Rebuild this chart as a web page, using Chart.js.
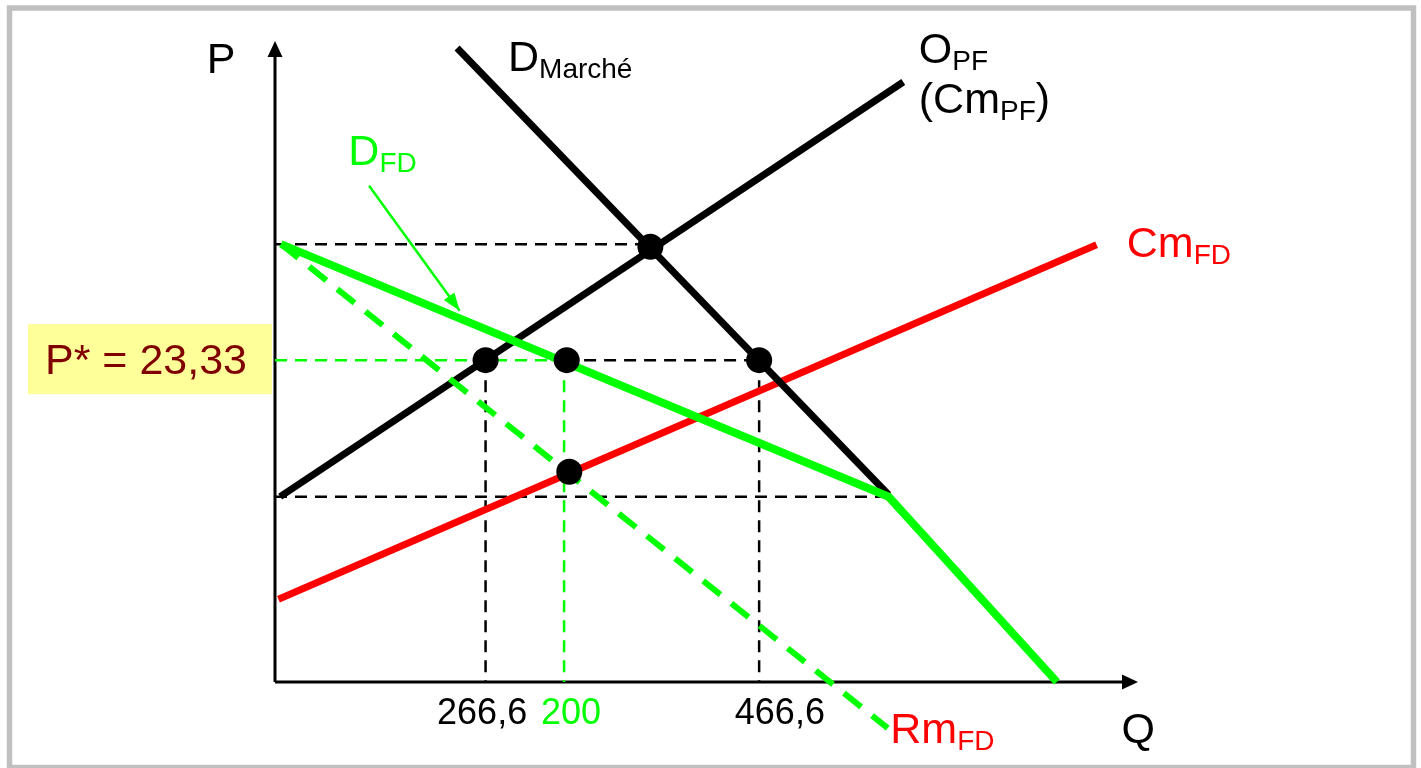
<!DOCTYPE html>
<html lang="fr">
<head>
<meta charset="UTF-8">
<title>Firme dominante</title>
<script src="https://cdn.jsdelivr.net/npm/chart.js"></script>
<style>
  html, body { margin: 0; padding: 0; background: #fff; }
</style>
</head>
<body>
<canvas id="chart" width="1421" height="768"></canvas>
<script>
// Courbes (Q en abscisse, P en ordonnée, unités du schéma)
const dMarcheQ = [21.1, 71.1];
const dMarcheP = [98.9, 29.2];
const oPfQ = [0.6, 72.8];
const oPfP = [28.9, 93.6];
const cmFdQ = [0.4, 95.2];
const cmFdP = [12.9, 68.2];
const dFdQ = [0.7, 71.1, 90.6];
const dFdP = [68.3, 28.9, 0];
const rmFdQ = [0.7, 71.0];
const rmFdP = [68.3, -7.2];

// Niveaux de prix et quantités repères
const pHaut = 68.3;
const pStar = 50.2;
const pBas = 28.9;
const qHaut = 43.5;
const qKink = 71.1;
const qTicks = [24.4, 33.5, 56.1];
const qTickLabels = ['266,6', '200', '466,6'];
const qTickColors = ['#000000', '#00ff00', '#000000'];

// Points d'équilibre
const dotsQ = [43.5, 24.4, 33.8, 56.1, 34.1];
const dotsP = [67.9, 50.2, 50.2, 50.2, 32.8];

// Flèche vers D_FD
const arrowQ = [10.9, 21.4];
const arrowP = [77.4, 57.9];

const GREEN = '#00ff00';
const RED = '#ff0000';
const FONT = '"Liberation Sans", Arial, sans-serif';

function pts(qs, ps) {
  return qs.map((q, i) => ({ x: q, y: ps[i] }));
}

function line(data, color, width, dash) {
  return {
    data: data,
    showLine: true,
    borderColor: color,
    backgroundColor: color,
    borderWidth: width,
    borderDash: dash || [],
    pointRadius: 0,
    fill: false,
    clip: false
  };
}

const guides = [
  line([{ x: 0, y: pHaut }, { x: qHaut, y: pHaut }], '#000', 2.5, [12, 8]),
  line([{ x: 0, y: pStar }, { x: qTicks[1], y: pStar }], GREEN, 2.5, [12, 8]),
  line([{ x: qTicks[1], y: pStar }, { x: qTicks[2], y: pStar }], '#000', 2.5, [12, 8]),
  line([{ x: 0, y: pBas }, { x: qKink, y: pBas }], '#000', 2.5, [12, 8]),
  line([{ x: qTicks[0], y: pStar }, { x: qTicks[0], y: 0 }], '#000', 2.5, [12, 8]),
  line([{ x: qTicks[1], y: pStar }, { x: qTicks[1], y: 0 }], GREEN, 2.5, [12, 8]),
  line([{ x: qTicks[2], y: pStar }, { x: qTicks[2], y: 0 }], '#000', 2.5, [12, 8])
];

const datasets = [
  {
    data: pts(dotsQ, dotsP),
    showLine: false,
    pointRadius: 13,
    pointBackgroundColor: '#000',
    pointBorderWidth: 0,
    clip: false
  },
  line(pts(arrowQ, arrowP), GREEN, 2.5),
  line(pts(dFdQ, dFdP), GREEN, 8),
  line(pts(rmFdQ, rmFdP), GREEN, 6, [22, 14]),
  line(pts(oPfQ, oPfP), '#000', 7),
  line(pts(dMarcheQ, dMarcheP), '#000', 7),
  line(pts(cmFdQ, cmFdP), RED, 7)
].concat(guides);

// textes : principal, indice, suite ; position (q, p)
const labels = [
  { q: -7.9, p: 95.0, main: 'P', color: '#000' },
  { q: 98.1, p: -9.5, main: 'Q', color: '#000' },
  { q: 27.0, p: 95.3, main: 'D', sub: 'Marché', color: '#000' },
  { q: 74.6, p: 96.6, main: 'O', sub: 'PF', color: '#000' },
  { q: 74.6, p: 88.8, main: '(Cm', sub: 'PF', after: ')', color: '#000' },
  { q: 8.5, p: 80.7, main: 'D', sub: 'FD', color: GREEN },
  { q: 98.7, p: 66.3, main: 'Cm', sub: 'FD', color: RED },
  { q: 71.3, p: -9.5, main: 'Rm', sub: 'FD', color: RED }
];
const tickTextQ = [24.0, 34.3, 58.5];

const decor = {
  id: 'decor',
  beforeDraw(chart) {
    const c = chart.ctx;
    c.save();
    c.fillStyle = '#fff';
    c.fillRect(0, 0, chart.width, chart.height);
    c.strokeStyle = '#c0c0c0';
    c.lineWidth = 5.5;
    c.strokeRect(9.5, 8, 1404, 759.5);
    c.restore();
  },
  beforeDatasetsDraw(chart) {
    const c = chart.ctx;
    const xs = chart.scales.x, ys = chart.scales.y;
    const x0 = xs.getPixelForValue(0), y0 = ys.getPixelForValue(0);
    const xEnd = xs.getPixelForValue(100), yEnd = ys.getPixelForValue(100);
    c.save();
    c.strokeStyle = '#000';
    c.fillStyle = '#000';
    c.lineWidth = 3;
    c.beginPath();
    c.moveTo(x0, y0);
    c.lineTo(x0, yEnd + 14);
    c.moveTo(x0, y0);
    c.lineTo(xEnd - 14, y0);
    c.stroke();
    c.beginPath();
    c.moveTo(x0, yEnd);
    c.lineTo(x0 - 7.5, yEnd + 16);
    c.lineTo(x0 + 7.5, yEnd + 16);
    c.closePath();
    c.fill();
    c.beginPath();
    c.moveTo(xEnd, y0);
    c.lineTo(xEnd - 16, y0 - 7.5);
    c.lineTo(xEnd - 16, y0 + 7.5);
    c.closePath();
    c.fill();
    c.restore();
  },
  afterDatasetsDraw(chart) {
    const c = chart.ctx;
    const xs = chart.scales.x, ys = chart.scales.y;
    c.save();

    // pointe de la flèche D_FD
    const ax = xs.getPixelForValue(arrowQ[1]), ay = ys.getPixelForValue(arrowP[1]);
    const bx = xs.getPixelForValue(arrowQ[0]), by = ys.getPixelForValue(arrowP[0]);
    const ang = Math.atan2(ay - by, ax - bx);
    c.fillStyle = GREEN;
    c.beginPath();
    c.moveTo(ax, ay);
    c.lineTo(ax - 18 * Math.cos(ang) + 6.5 * Math.sin(ang), ay - 18 * Math.sin(ang) - 6.5 * Math.cos(ang));
    c.lineTo(ax - 18 * Math.cos(ang) - 6.5 * Math.sin(ang), ay - 18 * Math.sin(ang) + 6.5 * Math.cos(ang));
    c.closePath();
    c.fill();

    c.textBaseline = 'alphabetic';
    c.textAlign = 'left';
    labels.forEach(l => {
      let x = xs.getPixelForValue(l.q);
      const y = ys.getPixelForValue(l.p);
      c.fillStyle = l.color;
      c.font = '43px ' + FONT;
      c.fillText(l.main, x, y);
      x += c.measureText(l.main).width;
      if (l.sub) {
        c.font = '28px ' + FONT;
        c.fillText(l.sub, x, y + 7);
        x += c.measureText(l.sub).width;
      }
      if (l.after) {
        c.font = '43px ' + FONT;
        c.fillText(l.after, x, y);
      }
    });

    // étiquettes des quantités
    c.font = '36px ' + FONT;
    c.textAlign = 'center';
    qTickLabels.forEach((t, i) => {
      c.fillStyle = qTickColors[i];
      c.fillText(t, xs.getPixelForValue(tickTextQ[i]), ys.getPixelForValue(-6.55));
    });

    // encadré P*
    const boxTop = ys.getPixelForValue(pStar) - 36;
    c.fillStyle = '#ffff99';
    c.fillRect(28, boxTop, 244, 70);
    c.fillStyle = '#800000';
    c.font = '43px ' + FONT;
    c.textAlign = 'left';
    c.fillText('P* = 23,33', 45, boxTop + 50);
    c.restore();
  }
};

new Chart(document.getElementById('chart').getContext('2d'), {
  type: 'scatter',
  data: { datasets: datasets },
  options: {
    responsive: false,
    animation: false,
    devicePixelRatio: 1,
    layout: { padding: { left: 275, right: 283, top: 41, bottom: 22 } },
    scales: {
      x: { type: 'linear', min: 0, max: 100, display: false },
      y: { type: 'linear', min: -10, max: 100, display: false }
    },
    plugins: {
      legend: { display: false },
      tooltip: { enabled: false }
    }
  },
  plugins: [decor]
});
</script>
</body>
</html>
